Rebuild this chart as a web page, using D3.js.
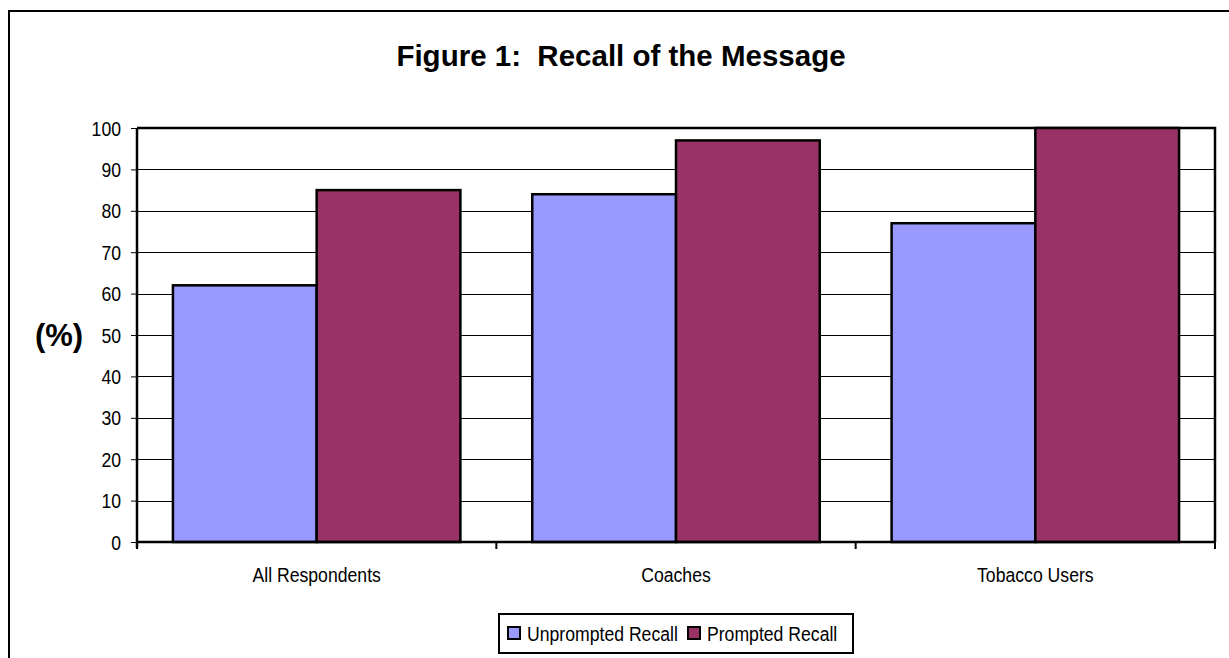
<!DOCTYPE html>
<html>
<head>
<meta charset="utf-8">
<script src="https://cdn.jsdelivr.net/npm/d3@7"></script>
<style>
  html, body { margin: 0; padding: 0; background: #fff; }
  svg { display: block; }
  text { font-family: "Liberation Sans", Arial, sans-serif; }
  .bold { font-weight: bold; white-space: pre; }
</style>
</head>
<body>
<script>
// Chart data
const categories = ["All Respondents", "Coaches", "Tobacco Users"];
const seriesNames = ["Unprompted Recall", "Prompted Recall"];
const unprompted = [62, 84, 77];
const prompted = [85, 97, 100];
const yTicks = [0, 10, 20, 30, 40, 50, 60, 70, 80, 90, 100];
const seriesColors = ["#9999FF", "#993366"];

const W = 1229, H = 658;
const plot = { left: 137, top: 128, right: 1215, bottom: 542 };
const NARROW = 0.84;   // horizontal squeeze for the condensed label face
const LABEL_SIZE = 21;

const svg = d3.select("body").append("svg")
  .attr("width", W).attr("height", H);

// Places condensed text at (x, y)
function narrowText(sel, x, y) {
  return sel.attr("x", 0).attr("y", 0)
    .attr("transform", `translate(${x},${y}) scale(${NARROW},1)`);
}

// Outer chart frame (runs past the right and bottom edges)
svg.append("rect")
  .attr("x", 9).attr("y", 11)
  .attr("width", 1260).attr("height", 700)
  .attr("fill", "#fff").attr("stroke", "#000").attr("stroke-width", 2);

// Title
svg.append("text")
  .attr("class", "bold")
  .attr("x", 621).attr("y", 66)
  .attr("text-anchor", "middle")
  .attr("font-size", 29.5)
  .text("Figure 1:  Recall of the Message");

// Scales
const x0 = d3.scaleBand().domain(categories).range([plot.left, plot.right]).paddingInner(0).paddingOuter(0);
const x1 = d3.scaleBand().domain(seriesNames).range([0, x0.bandwidth()]).paddingInner(0).paddingOuter(0.25);
const y = d3.scaleLinear().domain([0, 100]).range([plot.bottom, plot.top]);

// Gridlines
svg.append("g")
  .selectAll("line")
  .data(yTicks.filter(d => d > 0 && d < 100))
  .join("line")
  .attr("x1", plot.left).attr("x2", plot.right)
  .attr("y1", d => Math.round(y(d)) + 0.5).attr("y2", d => Math.round(y(d)) + 0.5)
  .attr("stroke", "#000").attr("stroke-width", 1);

// Plot area top and right edges
svg.append("path")
  .attr("d", `M${plot.left},${plot.top}H${plot.right}V${plot.bottom}`)
  .attr("fill", "none").attr("stroke", "#000").attr("stroke-width", 2.5);

// Bars
const rows = categories.map((c, i) => ({ cat: c, vals: [unprompted[i], prompted[i]] }));
const groups = svg.append("g").selectAll("g")
  .data(rows).join("g")
  .attr("transform", d => `translate(${x0(d.cat)},0)`);
groups.selectAll("rect")
  .data(d => d.vals.map((v, j) => ({ name: seriesNames[j], v, j })))
  .join("rect")
  .attr("x", d => x1(d.name))
  .attr("width", x1.bandwidth())
  .attr("y", d => y(d.v))
  .attr("height", d => y(0) - y(d.v))
  .attr("fill", d => seriesColors[d.j])
  .attr("stroke", "#000").attr("stroke-width", 2.5);

// Y axis
const yAxis = svg.append("g")
  .attr("transform", `translate(${plot.left},0)`)
  .call(d3.axisLeft(y).tickValues(yTicks).tickSize(6).tickPadding(8).tickFormat(d3.format("d")));
yAxis.select(".domain").attr("stroke", "#000").attr("stroke-width", 2.5)
  .attr("d", `M0,${plot.top}V${plot.bottom + 6}`);
yAxis.selectAll(".tick line").attr("stroke", "#000").attr("stroke-width", 1);
yAxis.selectAll(".tick text")
  .attr("font-size", LABEL_SIZE).attr("fill", "#000")
  .attr("dy", "0.34em")
  .each(function () { narrowText(d3.select(this), -16, 0); });

// X axis
const xTickPos = [plot.left].concat(categories.map(c => x0(c) + x0.bandwidth()));
const xAxis = svg.append("g");
xAxis.append("line")
  .attr("x1", plot.left).attr("x2", plot.right)
  .attr("y1", plot.bottom).attr("y2", plot.bottom)
  .attr("stroke", "#000").attr("stroke-width", 2.5);
xAxis.selectAll("line.tk")
  .data(xTickPos).join("line").attr("class", "tk")
  .attr("x1", d => d).attr("x2", d => d)
  .attr("y1", plot.bottom).attr("y2", plot.bottom + 7)
  .attr("stroke", "#000").attr("stroke-width", 2);
xAxis.selectAll("text")
  .data(categories).join("text")
  .attr("text-anchor", "middle")
  .attr("font-size", LABEL_SIZE)
  .text(d => d)
  .each(function (d) { narrowText(d3.select(this), x0(d) + x0.bandwidth() / 2, 582); });

// Y axis title
svg.append("text")
  .attr("class", "bold")
  .attr("x", 59).attr("y", 346)
  .attr("text-anchor", "middle")
  .attr("font-size", 31)
  .text("(%)");

// Legend
const legend = svg.append("g");
legend.append("rect")
  .attr("x", 499).attr("y", 614).attr("width", 354).attr("height", 39)
  .attr("fill", "#fff").attr("stroke", "#000").attr("stroke-width", 2);
const legX = [508, 688];
seriesNames.forEach((s, i) => {
  legend.append("rect")
    .attr("x", legX[i]).attr("y", 627).attr("width", 12).attr("height", 12)
    .attr("fill", seriesColors[i]).attr("stroke", "#000").attr("stroke-width", 2);
  narrowText(legend.append("text").attr("font-size", LABEL_SIZE).text(s), legX[i] + 19, 641);
});
</script>
</body>
</html>
